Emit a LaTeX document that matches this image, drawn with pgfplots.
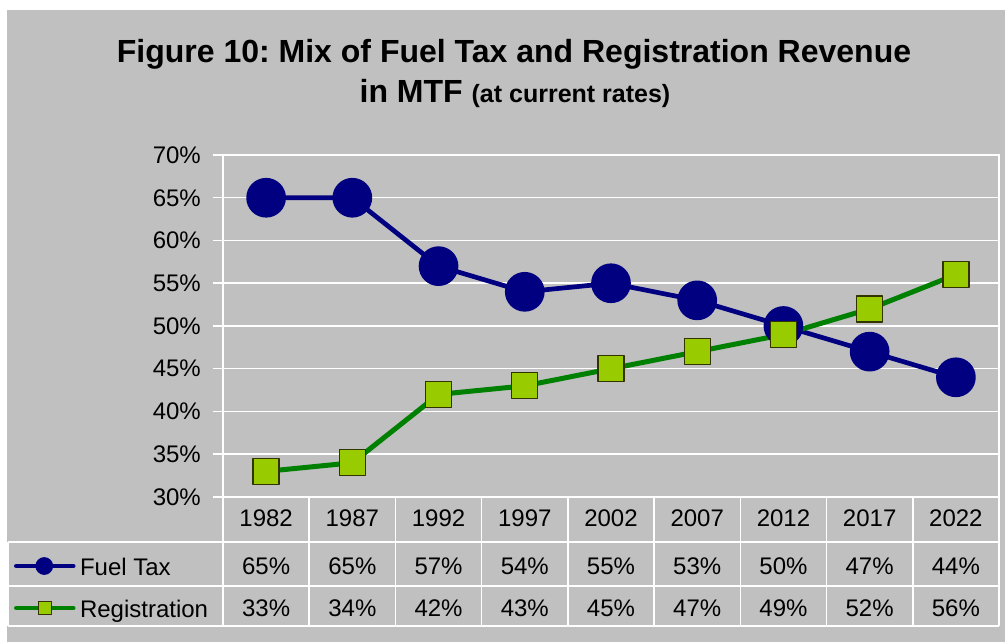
\documentclass[border=0pt]{standalone}
\usepackage{fontspec}
\setmainfont{Liberation Sans}
\usepackage{pgfplots}
\usepackage{pgfplotstable}
\pgfplotsset{compat=1.18}
\frenchspacing

\definecolor{chartgray}{RGB}{192,192,192}
\definecolor{fuelblue}{RGB}{0,0,128}
\definecolor{reggreen}{RGB}{0,128,0}
\definecolor{regfill}{RGB}{153,204,0}
\definecolor{regedge}{RGB}{51,51,0}

% share of MTF revenue, percent
\pgfplotstableread{
x year fuel reg
0 1982 65 33
1 1987 65 34
2 1992 57 42
3 1997 54 43
4 2002 55 45
5 2007 53 47
6 2012 50 49
7 2017 47 52
8 2022 44 56
}\mixdata

\newcommand{\tablefont}{\fontsize{24bp}{28bp}\selectfont}

\begin{document}
\begin{tikzpicture}
\path[use as bounding box] (0,0) rectangle (1005bp,642bp);
\fill[white] (0,0) rectangle (1005bp,642bp);
\fill[chartgray] (7bp,0) rectangle (1005bp,632bp);

\node[anchor=base, inner sep=0pt, font=\bfseries\fontsize{32bp}{38bp}\selectfont]
  at (514bp,579bp) {Figure 10: Mix of Fuel Tax and Registration Revenue};
\node[anchor=base, inner sep=0pt, font=\bfseries\fontsize{32bp}{38bp}\selectfont]
  at (515bp,539bp) {in MTF {\fontsize{25bp}{30bp}\selectfont(at current rates)}};

% data table grid
\begin{scope}[x=1bp, y=-1bp, shift={(0bp,642bp)}, draw=white, line width=1.5bp]
  \draw (8,542) -- (999,542);
  \draw (8,586) -- (999,586);
  \draw (8,626) -- (999,626);
  \draw (8,542) -- (8,626);
  \foreach \k in {0,...,9} \draw ({223+86.222*\k},497) -- ({223+86.222*\k},626);
\end{scope}

\begin{axis}[
  at={(223bp,145bp)}, anchor=south west,
  width=776bp, height=342bp, scale only axis,
  xmin=-0.5, xmax=8.5, ymin=30, ymax=70,
  ytick={30,35,...,70},
  yticklabel={\pgfmathprintnumber{\tick}\%},
  /pgf/number format/assume math mode=true,
  xtick={0,...,8},
  xticklabels from table={\mixdata}{year},
  axis line style={white, line width=1.5bp},
  ymajorgrids,
  major grid style={white, line width=1.5bp},
  tick align=outside, major tick length=10bp,
  ytick pos=left,
  ytick style={white, line width=1.5bp},
  xtick style={draw=none},
  ticklabel style={font=\tablefont},
  yticklabel style={anchor=east, inner sep=0pt, xshift=-12bp},
  xticklabel style={anchor=center, inner sep=0pt, yshift=-11.5bp},
  clip=false,
  legend cell align=left,
  legend style={at={(-0.2693,-0.2632)}, anchor=west, draw=none, fill=none,
    inner sep=0pt, outer sep=0pt, row sep=20bp, column sep=4.5bp,
    font=\tablefont,
    nodes={inner sep=0pt, text height=20bp, text depth=2bp}},
]
\addplot[fuelblue, line width=4.7bp, line join=round,
  mark=*, mark size=17.5bp, mark options={solid, fill=fuelblue, draw=none},
  legend image code/.code={
    \draw[fuelblue, line width=4.5bp, line cap=round] (0bp,0bp) -- (57bp,0bp);
    \fill[fuelblue] (28bp,0bp) circle (6.5bp);}]
  table[x=x, y=fuel] {\mixdata};
\addlegendentry{Fuel Tax}
\addplot[reggreen, line width=5bp, line join=round,
  mark=square*, mark size=13bp, mark options={solid, fill=regfill, draw=regedge, line width=1.3bp},
  legend image code/.code={
    \draw[reggreen, line width=4.5bp, line cap=round] (0bp,0bp) -- (57bp,0bp);
    \draw[fill=regfill, draw=regedge, line width=1.2bp] (22bp,-6.5bp) rectangle (35bp,6.5bp);}]
  table[x=x, y=reg] {\mixdata};
\addlegendentry{Registration}

% values of the data table
\pgfplotsinvokeforeach{0,...,8}{
  \pgfplotstablegetelem{#1}{fuel}\of\mixdata
  \edef\cellnode{\noexpand\node[font=\noexpand\tablefont, inner sep=0pt] at (axis cs:#1,21.93) {\pgfplotsretval\noexpand\%};}
  \cellnode
  \pgfplotstablegetelem{#1}{reg}\of\mixdata
  \edef\cellnode{\noexpand\node[font=\noexpand\tablefont, inner sep=0pt] at (axis cs:#1,17.02) {\pgfplotsretval\noexpand\%};}
  \cellnode
}
\end{axis}
\end{tikzpicture}
\end{document}
